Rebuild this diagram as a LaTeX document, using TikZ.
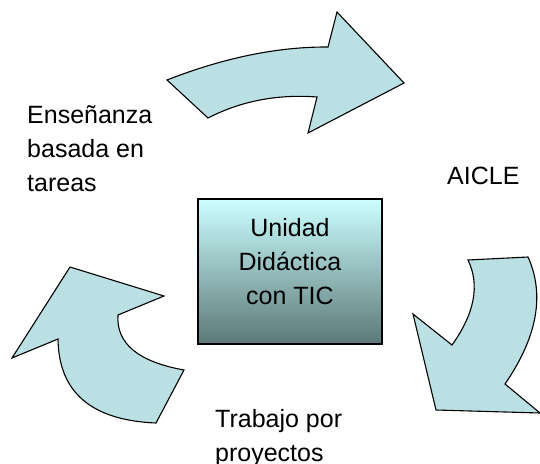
\documentclass[tikz,border=0pt]{standalone}
\usepackage{fontspec}
\setmainfont{Liberation Sans}
\usepackage{xcolor}
\usepackage{tikz}
\usetikzlibrary{calc}
\definecolor{arrowfill}{RGB}{187,224,227}
\definecolor{boxtop}{RGB}{204,255,255}
\definecolor{boxbot}{RGB}{92,120,120}
\tikzstyle{cyc}=[draw=black,line width=1.1pt,fill=arrowfill,line join=miter]
\tikzstyle{lbl}=[inner sep=0pt,anchor=base west,align=left,font=\fontsize{25}{34}\selectfont]
\tikzstyle{unit}=[draw=black,line width=1.1pt,top color=boxtop,bottom color=boxbot,minimum width=184pt,minimum height=145pt]
\tikzstyle{unittxt}=[inner sep=0pt,align=center,font=\fontsize{25}{34}\selectfont]

\begin{document}
\begin{tikzpicture}[x=1pt,y=-1pt]
	\useasboundingbox (0,0) rectangle (540,463);
	\fill[cyc] (167,80) .. controls (224,57.7) and (277.7,46.7) .. (328,47) -- (337,12) -- (404,83) -- (308,133) -- (317,97) .. controls (277.3,94) and (241,101) .. (208,118) -- cycle;
	\fill[cyc] (528,257) -- (468,260) .. controls (480,285) and (474.7,313.3) .. (452,345) -- (413,314) -- (436,410) -- (540,413) -- (505,384) .. controls (537.3,337) and (545,294.7) .. (528,257) -- cycle;
	\fill[cyc] (70,267) -- (164,296) -- (118,315) .. controls (116,343.3) and (138,361.7) .. (184,370) -- (156,423) .. controls (91.3,420.3) and (58.7,392.3) .. (58,339) -- (12,358) -- cycle;
	\node[unit] (ud) at (290,271.5) {};
	\node[unittxt,yshift=10pt] (udtxt) at (ud.center) {Unidad\\Didáctica\\con TIC};
	\node[lbl] (tareas) at (27,191) {Enseñanza\\basada en\\tareas};
	\node[lbl] (aicle) at (447,184) {AICLE};
	\node[lbl] (proyectos) at (215,461) {Trabajo por\\proyectos};
\end{tikzpicture}
\end{document}
